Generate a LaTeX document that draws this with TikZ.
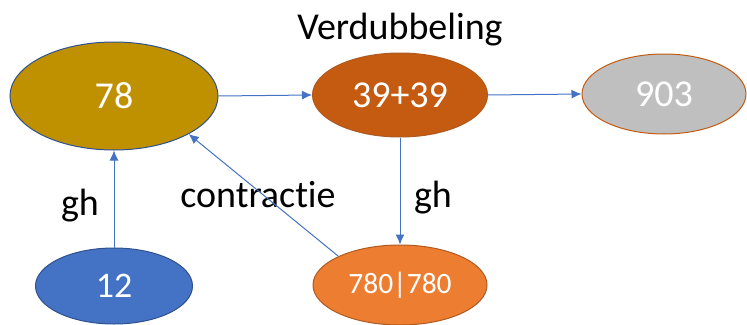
\documentclass[tikz,border=0pt]{standalone}
\usepackage{fontspec}
\setmainfont[Ligatures=NoCommon]{Carlito}
\usetikzlibrary{arrows.meta,shapes.geometric}
\definecolor{pijl}{HTML}{4472C4}
\definecolor{goud}{HTML}{BF9000}
\definecolor{roest}{HTML}{C55A11}
\definecolor{oranje}{HTML}{ED7D31}
\definecolor{grijs}{HTML}{BFBFBF}
\definecolor{donkerblauw}{HTML}{2F528F}
\definecolor{bruinrand}{HTML}{AE5A21}
\begin{document}
\begin{tikzpicture}[x=1pt,y=-1pt,
  bol/.style={ellipse,draw,line width=1pt,inner sep=0pt,text=white,font=\fontsize{38}{42}\selectfont},
  tekst/.style={anchor=base,inner sep=0pt,font=\fontsize{38}{42}\selectfont},
  pijl/.style={draw=pijl,line width=1pt,>={Latex[length=10pt,width=9pt]},->}]
\useasboundingbox (0,0) rectangle (747,324);
\node[bol,fill=goud,draw=donkerblauw,minimum width=208pt,minimum height=108pt] (r78) at (114,96) {78};
\node[bol,fill=roest,draw=bruinrand,minimum width=175pt,minimum height=84pt] (r39) at (400,95) {39+39};
\node[bol,fill=grijs,draw=roest,minimum width=164pt,minimum height=80pt] (r903) at (664,94) {903};
\node[bol,fill=pijl,draw=donkerblauw,minimum width=157pt,minimum height=76pt,font=\fontsize{36}{40}\selectfont] (r12) at (114,286) {12};
\node[bol,fill=oranje,draw=bruinrand,minimum width=174pt,minimum height=80pt,font=\fontsize{29.5}{34}\selectfont] (r780) at (400,285) {780|780};

\node[tekst] (verd) at (400,39) {Verdubbeling};
\node[tekst] (gh1) at (80,215) {gh};
\node[tekst] (gh2) at (433,207) {gh};
\node[tekst] (contr) at (258,207) {contractie};

\draw[pijl] (r78.east) -- (r39.west);
\draw[pijl] (r39.east) -- (r903.west);
\draw[pijl] (r39.south) -- (r780.north);
\draw[pijl] (r12.north) -- (r78.south);
\draw[pijl] (r780.155) -- (r78.-27);

\end{tikzpicture}
\end{document}
